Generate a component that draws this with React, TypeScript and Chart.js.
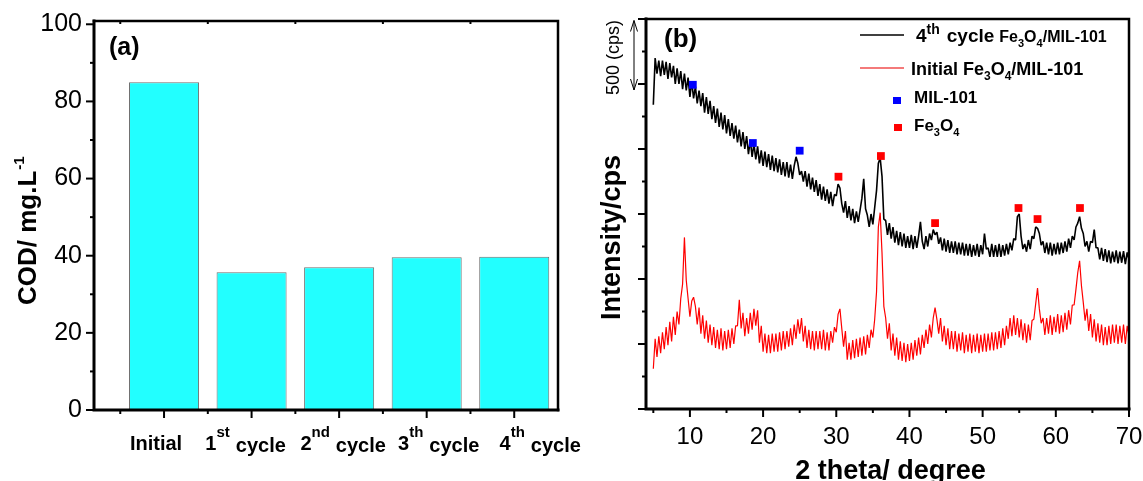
import React, { useEffect, useRef } from 'react';
import { Chart, registerables } from 'chart.js';

Chart.register(...registerables);

// ---------- Panel (a): COD bar chart ----------
const codCategories = ['Initial', '1st cycle', '2nd cycle', '3th cycle', '4th cycle'];
const codValues = [85.0, 35.7, 37.0, 39.6, 39.7];
const codTicks = [0, 20, 40, 60, 80, 100];

// ---------- Panel (b): XRD patterns ----------
const xrdStart = 5;
const xrdStep = 0.25;
const xrdXTicks = [10, 20, 30, 40, 50, 60, 70];
const xrdYTicks = [0, 500, 1000, 1500, 2000, 2500, 3000];

const cycle4Counts = [
  2340, 2700, 2580, 2680,
  2560, 2680, 2570, 2670,
  2540, 2660, 2550, 2640,
  2500, 2620, 2500, 2600,
  2460, 2580, 2450, 2550,
  2400, 2520, 2390, 2480,
  2350, 2450, 2330, 2430,
  2280, 2400, 2270, 2370,
  2230, 2330, 2200, 2310,
  2170, 2280, 2150, 2260,
  2120, 2230, 2100, 2200,
  2080, 2180, 2050, 2150,
  2020, 2130, 2000, 2100,
  1960, 2070, 1940, 2040,
  1920, 2020, 1890, 1990,
  1870, 1980, 1860, 1960,
  1840, 1950, 1830, 1930,
  1820, 1920, 1800, 1900,
  1790, 1900, 1780, 1880,
  1770, 1870, 1940, 1890,
  1800, 1830, 1750, 1830,
  1710, 1810, 1690, 1780,
  1670, 1760, 1640, 1730,
  1610, 1710, 1600, 1690,
  1580, 1670, 1560, 1650,
  1640, 1730, 1700, 1580,
  1510, 1600, 1470, 1560,
  1450, 1540, 1430, 1520,
  1440, 1530, 1620, 1770,
  1540, 1490, 1400, 1500,
  1420, 1550, 1680, 1890,
  1930, 1790, 1460, 1450,
  1340, 1430, 1310, 1400,
  1280, 1370, 1260, 1360,
  1250, 1350, 1240, 1330,
  1240, 1340, 1230, 1330,
  1240, 1330, 1440, 1290,
  1230, 1330, 1250, 1350,
  1300, 1380, 1340, 1360,
  1270, 1320, 1220, 1310,
  1210, 1300, 1200, 1290,
  1200, 1290, 1190, 1280,
  1190, 1280, 1180, 1270,
  1180, 1270, 1170, 1260,
  1180, 1270, 1170, 1260,
  1190, 1350, 1230, 1240,
  1170, 1270, 1170, 1260,
  1170, 1270, 1170, 1260,
  1180, 1270, 1190, 1280,
  1220, 1310, 1300, 1480,
  1500, 1330, 1230, 1270,
  1210, 1300, 1230, 1330,
  1310, 1400, 1390, 1350,
  1260, 1290, 1200, 1280,
  1190, 1280, 1180, 1270,
  1190, 1280, 1190, 1280,
  1200, 1290, 1210, 1310,
  1240, 1330, 1300, 1400,
  1430, 1480, 1390, 1350,
  1250, 1290, 1210, 1290,
  1280, 1380, 1240, 1240,
  1150, 1240, 1140, 1230,
  1130, 1220, 1120, 1210,
  1130, 1220, 1120, 1210,
  1125, 1215, 1115, 1205,
  1150,
];

const initialCounts = [
  310, 540, 400, 560,
  430, 590, 460, 630,
  490, 670, 520, 710,
  570, 750, 650, 850,
  960, 1320, 990, 850,
  710, 830, 860, 790,
  650, 780, 580, 720,
  540, 680, 510, 650,
  490, 630, 470, 610,
  460, 620, 450, 600,
  460, 610, 470, 620,
  500, 640, 640, 840,
  620, 740, 560, 700,
  580, 740, 610, 770,
  640, 760, 510, 640,
  440, 580, 430, 570,
  430, 580, 440, 580,
  440, 590, 450, 600,
  460, 600, 480, 620,
  490, 650, 540, 690,
  580, 700, 520, 640,
  470, 610, 460, 600,
  450, 600, 460, 600,
  460, 610, 450, 590,
  450, 600, 510, 630,
  590, 730, 770, 620,
  480, 600, 380, 510,
  380, 530, 390, 540,
  400, 550, 410, 560,
  420, 570, 470, 610,
  550, 690, 900, 1400,
  1510, 1200, 790, 700,
  540, 660, 450, 580,
  410, 550, 380, 520,
  370, 510, 360, 500,
  370, 510, 380, 530,
  410, 550, 420, 570,
  470, 610, 500, 650,
  550, 700, 780, 690,
  580, 700, 520, 640,
  490, 620, 460, 600,
  460, 600, 440, 580,
  450, 590, 430, 570,
  440, 580, 430, 570,
  440, 580, 430, 570,
  440, 580, 440, 580,
  450, 590, 450, 590,
  460, 600, 470, 620,
  490, 640, 540, 700,
  560, 720, 570, 700,
  550, 690, 530, 660,
  510, 650, 530, 680,
  690, 810, 930, 770,
  660, 700, 570, 700,
  580, 720, 570, 710,
  590, 730, 580, 720,
  590, 740, 610, 760,
  650, 800, 800, 920,
  1050, 1140, 950, 820,
  680, 770, 600, 730,
  550, 690, 520, 660,
  510, 650, 490, 630,
  490, 640, 500, 650,
  510, 650, 500, 640,
  510, 650, 500, 640,
  560,
];

const mil101Theta = [10.4, 18.6, 25.0];
const mil101Marks = [2494, 2046, 1987];
const fe3o4Theta = [30.3, 36.1, 43.5, 54.9, 57.5, 63.3];
const fe3o4Marks = [1787, 1946, 1430, 1546, 1461, 1546];

// ---------- helpers ----------
const FONT = '"Liberation Sans", Arial, Helvetica, sans-serif';
const font = (size: number, bold = true) => `${bold ? 'bold ' : ''}${size}px ${FONT}`;

type Run = { t: string; size: number; dy?: number; gap?: number; bold?: boolean };

function runsWidth(ctx: CanvasRenderingContext2D, runs: Run[]) {
  let w = 0;
  for (const r of runs) {
    ctx.font = font(r.size, r.bold !== false);
    w += (r.gap || 0) + ctx.measureText(r.t).width;
  }
  return w;
}

function drawRuns(ctx: CanvasRenderingContext2D, x: number, y: number, runs: Run[]) {
  let cx = x;
  ctx.textAlign = 'left';
  ctx.textBaseline = 'alphabetic';
  for (const r of runs) {
    cx += r.gap || 0;
    ctx.font = font(r.size, r.bold !== false);
    ctx.fillText(r.t, cx, y + (r.dy || 0));
    cx += ctx.measureText(r.t).width;
  }
  return cx - x;
}

function line(ctx: CanvasRenderingContext2D, x1: number, y1: number, x2: number, y2: number) {
  ctx.beginPath();
  ctx.moveTo(x1, y1);
  ctx.lineTo(x2, y2);
  ctx.stroke();
}

// label layout style for panel (a)
const codLabelShift = [-8, -6, 4, 12, 26];

const axesA = {
  id: 'axesA',
  afterDraw(chart: any) {
    const ctx: CanvasRenderingContext2D = chart.ctx;
    const { left, right, top, bottom } = chart.chartArea;
    const xs = chart.scales.x;
    const ys = chart.scales.y;
    ctx.save();
    ctx.strokeStyle = '#000';
    ctx.fillStyle = '#000';
    ctx.lineCap = 'square';
    ctx.lineWidth = 2.5;
    ctx.beginPath();
    ctx.moveTo(left, top);
    ctx.lineTo(right, top);
    ctx.lineTo(right, bottom);
    ctx.stroke();
    ctx.lineWidth = 3;
    ctx.beginPath();
    ctx.moveTo(left, top);
    ctx.lineTo(left, bottom);
    ctx.lineTo(right, bottom);
    ctx.stroke();
    ctx.lineCap = 'butt';
    ctx.lineWidth = 2;
    ctx.font = font(25, false);
    ctx.textAlign = 'right';
    ctx.textBaseline = 'middle';
    codTicks.forEach((v, i) => {
      const py = ys.getPixelForValue(v);
      line(ctx, left - 8, py, left, py);
      ctx.fillText(String(v), left - 12, py);
      if (i < codTicks.length - 1) {
        const my = ys.getPixelForValue(v + (codTicks[i + 1] - v) / 2);
        line(ctx, left - 4, my, left, my);
      }
    });
    codCategories.forEach((_, i) => {
      const px = xs.getPixelForValue(i + 1);
      line(ctx, px, bottom, px, bottom + 8);
      const mx = xs.getPixelForValue(i + 0.5);
      line(ctx, mx, bottom, mx, bottom + 4);
      line(ctx, mx, top, mx, top + 3);
    });
    codCategories.forEach((lab, i) => {
      const px = xs.getPixelForValue(i + 1) + codLabelShift[i];
      const m = /^(\d)(st|nd|rd|th) (.+)$/.exec(lab);
      const runs: Run[] = m
        ? [
            { t: m[1], size: 20 },
            { t: m[2], size: 15, dy: -13 },
            { t: m[3], size: 20, dy: 2, gap: 6 },
          ]
        : [{ t: lab, size: 20 }];
      const w = runsWidth(ctx, runs);
      drawRuns(ctx, px - w / 2, 450, runs);
    });
    ctx.font = font(25);
    ctx.textAlign = 'left';
    ctx.textBaseline = 'alphabetic';
    ctx.fillText('(a)', left + 15, 55);
    ctx.save();
    ctx.translate(36, 305);
    ctx.rotate(-Math.PI / 2);
    drawRuns(ctx, 0, 0, [
      { t: 'COD/ mg.L', size: 26 },
      { t: '-1', size: 15, dy: -12, gap: 1 },
    ]);
    ctx.restore();
    ctx.restore();
  },
};

const axesB = {
  id: 'axesB',
  afterDraw(chart: any) {
    const ctx: CanvasRenderingContext2D = chart.ctx;
    const { left, right, top, bottom } = chart.chartArea;
    const xs = chart.scales.x;
    const ys = chart.scales.y;
    ctx.save();
    ctx.strokeStyle = '#000';
    ctx.fillStyle = '#000';
    ctx.lineCap = 'square';
    ctx.lineWidth = 2.5;
    ctx.beginPath();
    ctx.moveTo(left, top);
    ctx.lineTo(right, top);
    ctx.lineTo(right, bottom);
    ctx.stroke();
    ctx.lineWidth = 3;
    ctx.beginPath();
    ctx.moveTo(left, top);
    ctx.lineTo(left, bottom);
    ctx.lineTo(right, bottom);
    ctx.stroke();
    ctx.lineCap = 'butt';
    ctx.lineWidth = 2;
    xrdYTicks.forEach((v, i) => {
      const py = ys.getPixelForValue(v);
      line(ctx, left - 8, py, left, py);
      if (i < xrdYTicks.length - 1) {
        const my = ys.getPixelForValue(v + (xrdYTicks[i + 1] - v) / 2);
        line(ctx, left - 4, my, left, my);
      }
    });
    ctx.font = font(24, false);
    ctx.textAlign = 'center';
    ctx.textBaseline = 'alphabetic';
    xrdXTicks.forEach((v, i) => {
      const px = xs.getPixelForValue(v);
      line(ctx, px, bottom, px, bottom + 8);
      const prev = i === 0 ? v - (xrdXTicks[1] - xrdXTicks[0]) : xrdXTicks[i - 1];
      const mx = xs.getPixelForValue((prev + v) / 2);
      line(ctx, mx, bottom, mx, bottom + 4);
      ctx.fillText(String(v), px, 444);
    });
    ctx.font = font(27);
    ctx.fillText('2 theta/ degree', (left + right) / 2 + 3, 479);
    ctx.save();
    ctx.translate(620, 320);
    ctx.rotate(-Math.PI / 2);
    ctx.font = font(27);
    ctx.textAlign = 'left';
    ctx.fillText('Intensity/cps', 0, 0);
    ctx.restore();
    ctx.font = font(26);
    ctx.textAlign = 'left';
    ctx.fillText('(b)', left + 18, 47);
    // 500 cps scale arrow
    ctx.lineWidth = 1;
    const ax = left - 12;
    const yTop = ys.getPixelForValue(3000) + 1.5;
    const yBot = ys.getPixelForValue(2500) + 6;
    line(ctx, ax, yTop, ax, yBot);
    ctx.beginPath();
    ctx.moveTo(ax - 3.5, yTop + 11);
    ctx.lineTo(ax, yTop);
    ctx.lineTo(ax + 3.5, yTop + 11);
    ctx.stroke();
    ctx.beginPath();
    ctx.moveTo(ax - 3.5, yBot - 11);
    ctx.lineTo(ax, yBot);
    ctx.lineTo(ax + 3.5, yBot - 11);
    ctx.stroke();
    ctx.save();
    ctx.translate(619, 95);
    ctx.rotate(-Math.PI / 2);
    ctx.font = font(18, false);
    ctx.textAlign = 'left';
    ctx.fillText('500 (cps)', 0, 0);
    ctx.restore();
    // legend
    ctx.lineWidth = 1.5;
    ctx.strokeStyle = '#000';
    line(ctx, 860, 35, 904, 35);
    drawRuns(ctx, 916, 42, [
      { t: '4', size: 19 },
      { t: 'th', size: 14, dy: -8 },
      { t: 'cycle', size: 19, gap: 7 },
      { t: 'Fe', size: 16, gap: 5 },
      { t: '3', size: 11, dy: 5 },
      { t: 'O', size: 16 },
      { t: '4', size: 11, dy: 5 },
      { t: '/MIL-101', size: 16 },
    ]);
    ctx.lineWidth = 2;
    ctx.strokeStyle = '#f47a7a';
    line(ctx, 860, 68, 904, 68);
    drawRuns(ctx, 911, 75, [
      { t: 'Initial Fe', size: 18 },
      { t: '3', size: 12, dy: 5 },
      { t: 'O', size: 18 },
      { t: '4', size: 12, dy: 5 },
      { t: '/MIL-101', size: 18 },
    ]);
    ctx.fillStyle = '#0000ff';
    ctx.fillRect(893, 97, 8, 7);
    ctx.fillStyle = '#ff0000';
    ctx.fillRect(894, 124, 8, 7);
    ctx.fillStyle = '#000';
    drawRuns(ctx, 914, 103, [{ t: 'MIL-101', size: 17 }]);
    drawRuns(ctx, 914, 131, [
      { t: 'Fe', size: 17 },
      { t: '3', size: 11, dy: 5 },
      { t: 'O', size: 17 },
      { t: '4', size: 11, dy: 5 },
    ]);
    ctx.restore();
  },
};

export default function App() {
  const refA = useRef<HTMLCanvasElement>(null);
  const refB = useRef<HTMLCanvasElement>(null);

  useEffect(() => {
    const chartA = new Chart(refA.current as HTMLCanvasElement, {
      type: 'bar',
      data: {
        datasets: [
          {
            data: codValues.map((v, i) => ({ x: i + 1, y: v })),
            backgroundColor: '#22ffff',
            borderColor: '#6f6f6f',
            borderWidth: 1,
            borderSkipped: false,
            categoryPercentage: 0.8,
            barPercentage: 1,
          } as any,
        ],
      },
      options: {
        responsive: false,
        animation: false,
        events: [],
        layout: { padding: { left: 94, right: 585, top: 21, bottom: 71 } },
        plugins: { legend: { display: false }, tooltip: { enabled: false } },
        scales: {
          x: {
            type: 'linear',
            min: 0.2,
            max: 5.5,
            display: false,
            offset: false,
            ticks: { stepSize: 1, includeBounds: false },
          },
          y: { type: 'linear', min: 0, max: 100.85, display: false },
        },
      } as any,
      plugins: [axesA],
    });

    const theta = (i: number) => xrdStart + i * xrdStep;
    const chartB = new Chart(refB.current as HTMLCanvasElement, {
      type: 'line',
      data: {
        datasets: [
          {
            data: mil101Theta.map((t, i) => ({ x: t, y: mil101Marks[i] })),
            showLine: false,
            pointStyle: 'rect',
            pointRadius: 5.5,
            pointBackgroundColor: '#0000ff',
            pointBorderWidth: 0,
          },
          {
            data: fe3o4Theta.map((t, i) => ({ x: t, y: fe3o4Marks[i] })),
            showLine: false,
            pointStyle: 'rect',
            pointRadius: 5.5,
            pointBackgroundColor: '#ff0000',
            pointBorderWidth: 0,
          },
          {
            data: initialCounts.map((v, i) => ({ x: theta(i), y: v })),
            borderColor: '#ff0000',
            borderWidth: 1.2,
            pointRadius: 0,
            tension: 0,
            borderJoinStyle: 'bevel',
          },
          {
            data: cycle4Counts.map((v, i) => ({ x: theta(i), y: v })),
            borderColor: '#000000',
            borderWidth: 1.6,
            pointRadius: 0,
            tension: 0,
            borderJoinStyle: 'bevel',
          },
        ] as any,
      },
      options: {
        responsive: false,
        animation: false,
        events: [],
        layout: { padding: { left: 646, right: 14, top: 19, bottom: 72 } },
        plugins: { legend: { display: false }, tooltip: { enabled: false } },
        scales: {
          x: { type: 'linear', min: 4, max: 70, display: false },
          y: { type: 'linear', min: 0, max: 3000, display: false },
        },
      },
      plugins: [axesB],
    });

    return () => {
      chartA.destroy();
      chartB.destroy();
    };
  }, []);

  return (
    <div style={{ position: 'absolute', left: 0, top: 0, width: 1143, height: 481, background: '#fff', overflow: 'hidden' }}>
      <canvas ref={refA} width={1143} height={481} style={{ position: 'absolute', left: 0, top: 0 }} />
      <canvas ref={refB} width={1143} height={481} style={{ position: 'absolute', left: 0, top: 0 }} />
    </div>
  );
}
